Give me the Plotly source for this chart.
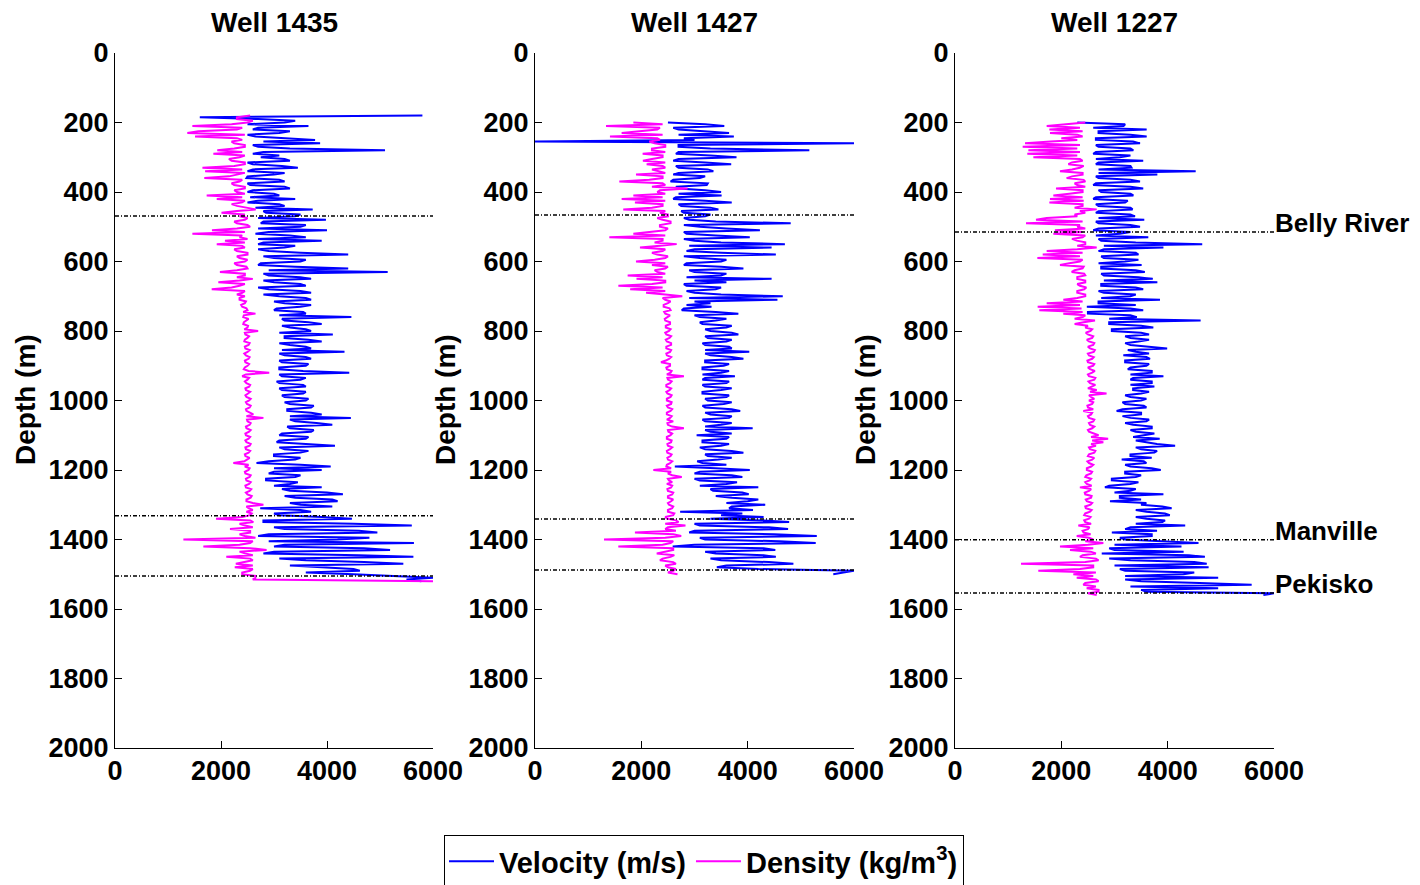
import plotly.graph_objects as go

# ---------------- data ----------------
WELLS = ["Well 1435", "Well 1427", "Well 1227"]
STEP = 5  # depth sampling of the digitised logs (m)

START_1435 = 180
VEL_1435 = [5800, 1600, 2700, 3400, 3200, 2500, 3650, 2700, 2600, 3300,
            3100, 2500, 2650, 3200, 3775, 2800, 3870, 2600, 2700, 3300,
            5095, 2800, 2600, 3100, 2750, 3200, 3300, 2500, 2600, 3150,
            3450, 2600, 2500, 3200, 3000, 2500, 2480, 3100, 3200, 2500,
            2550, 3200, 3300, 2600, 2500, 3000, 3100, 2550, 3400, 2700,
            2500, 3100, 3200, 2650, 3730, 2800, 2850, 3500, 3400, 2700,
            3980, 2800, 2750, 3600, 3500, 2700, 4000, 2900, 2650, 3300,
            3600, 2700, 3900, 2800, 2700, 3400, 3200, 2700, 2900, 3500,
            4400, 2800, 3000, 3600, 3500, 2750, 2700, 3400, 4400, 2900,
            5145, 2800, 2900, 3500, 3700, 2800, 3000, 3500, 3600, 2700,
            2900, 3500, 3700, 2800, 3100, 3600, 3700, 3000, 3200, 3700,
            3500, 3050, 3000, 3550, 3600, 3100, 4460, 3150, 3200, 3650,
            3900, 3150, 3300, 3600, 3700, 3100, 4110, 3200, 3200, 3650,
            3900, 3100, 3300, 3600, 3700, 3150, 4330, 3100, 3200, 3600,
            3700, 3100, 3150, 3650, 3600, 3100, 3100, 3550, 4420, 3100,
            3150, 3600, 3500, 3050, 3100, 3550, 3600, 3100, 3150, 3600,
            3550, 3150, 3200, 3650, 3600, 3200, 3300, 3750, 3700, 3250,
            3250, 3700, 3900, 3300, 4450, 3300, 3400, 3800, 4100, 3250,
            3300, 3750, 3700, 3150, 3100, 3650, 3600, 3100, 3050, 3600,
            4150, 3100, 3200, 3650, 3500, 3000, 3000, 3500, 3400, 2900,
            2670, 3500, 4070, 3000, 3900, 3000, 2900, 3500, 3400, 2850,
            2850, 3450, 3300, 3000, 3900, 3150, 3300, 4000, 4300, 3200,
            3400, 4100, 4200, 3300, 3500, 4100, 2740, 3500, 3700, 3000,
            3100, 3900, 4470, 2800, 2800, 4500, 5600, 3000, 3200, 4600,
            4950, 2900, 2700, 4800, 4200, 2900, 5640, 3200, 3000, 4700,
            5190, 3000, 2800, 4600, 5630, 3100, 3600, 4700, 5440, 3300,
            3800, 4500, 4620, 3600, 4500, 5400, 6000, 5500, 5780]
DEN_1435 = [2550, 2300, 2300, 2600, 2500, 2200, 1460, 2400, 2300, 1573,
            1365, 2450, 1510, 2300, 2400, 2200, 2250, 2450, 2450, 2250,
            1930, 2400, 1856, 2450, 2350, 2150, 2200, 2450, 2450, 2250,
            1650, 2400, 1700, 2450, 2300, 2150, 1685, 2400, 2350, 2200,
            2250, 2450, 2450, 2250, 2300, 2450, 1730, 2400, 1920, 2450,
            2400, 2200, 2300, 2450, 2655, 2300, 2010, 2450, 2350, 2500,
            2450, 2250, 2300, 2500, 2550, 2300, 1830, 2450, 1460, 2400,
            2350, 2500, 2075, 2450, 1920, 2400, 2450, 2250, 2300, 2500,
            2500, 2300, 2350, 2500, 2450, 2250, 2300, 2480, 2500, 2300,
            1980, 2450, 2450, 2300, 2600, 2350, 1950, 2450, 2350, 2200,
            1825, 2450, 2400, 2300, 2450, 2350, 2350, 2470, 2450, 2380,
            2400, 2480, 2500, 2420, 2650, 2430, 2420, 2520, 2480, 2430,
            2420, 2510, 2500, 2440, 2700, 2450, 2460, 2530, 2500, 2450,
            2440, 2540, 2520, 2450, 2460, 2540, 2500, 2440, 2470, 2540,
            2520, 2450, 2460, 2530, 2500, 2450, 2430, 2520, 2910, 2470,
            2400, 2530, 2500, 2450, 2480, 2550, 2530, 2460, 2470, 2550,
            2510, 2460, 2480, 2560, 2530, 2470, 2490, 2560, 2540, 2470,
            2480, 2560, 2610, 2480, 2800, 2490, 2500, 2560, 2540, 2470,
            2480, 2560, 2530, 2460, 2470, 2550, 2520, 2460, 2480, 2560,
            2540, 2460, 2470, 2550, 2520, 2450, 2460, 2540, 2500, 2440,
            2233, 2520, 2450, 2540, 2520, 2450, 2460, 2560, 2540, 2470,
            2480, 2560, 2530, 2460, 2470, 2570, 2540, 2470, 2500, 2580,
            2560, 2480, 2480, 2600, 2800, 2480, 2520, 2600, 2480, 2580,
            2550, 2400, 1906, 2550, 2610, 2350, 2450, 2600, 2170, 2550,
            2550, 2350, 2450, 2650, 1290, 2600, 2550, 2350, 1667, 2550,
            2860, 2350, 2450, 2600, 2100, 2550, 2600, 2400, 2280, 2600,
            2260, 2600, 2550, 2400, 2400, 2650, 2650, 2600, 6000]

START_1427 = 200
VEL_1427 = [2500, 3200, 3560, 2600, 2700, 3300, 3650, 2700, 3740, 2800,
            3000, 0, 6000, 2700, 2700, 3300, 5160, 2700, 2650, 3300,
            3790, 2700, 2600, 3200, 3690, 2650, 2700, 3250, 3355, 2700,
            2600, 3200, 3100, 2600, 2550, 3250, 3230, 2650, 2700, 3200,
            3500, 2700, 3510, 2650, 2600, 3200, 3700, 2700, 2750, 3300,
            3450, 2750, 2800, 3300, 3200, 2800, 2900, 3400, 4810, 2800,
            3100, 3600, 4230, 2800, 2850, 3400, 4040, 2800, 3000, 3500,
            4700, 2900, 4450, 3000, 2850, 3500, 4530, 2800, 3100, 3600,
            3500, 2850, 2800, 3500, 3920, 2900, 3000, 3600, 3500, 2850,
            4450, 3000, 3600, 2800, 2850, 3500, 3400, 2850, 3000, 3500,
            4660, 2900, 4560, 3000, 3300, 2850, 3320, 2800, 2760, 3400,
            3825, 3000, 3100, 3600, 3400, 3100, 3150, 3700, 3600, 3200,
            3300, 3700, 3825, 3200, 3250, 3700, 3600, 3150, 3200, 3650,
            3700, 3200, 4030, 3200, 3300, 3700, 3920, 3200, 3200, 3650,
            3550, 3150, 3150, 3650, 3500, 3150, 3760, 3200, 3150, 3650,
            3600, 3150, 3200, 3700, 3500, 3150, 3150, 3650, 3600, 3200,
            3250, 3700, 3550, 3150, 3200, 3700, 3860, 3200, 3300, 3700,
            3650, 3150, 3200, 3700, 3500, 3200, 4094, 3200, 3300, 3700,
            3040, 3650, 3600, 3150, 3150, 3650, 3500, 3100, 3200, 3700,
            3920, 3200, 3250, 3700, 3450, 3050, 3150, 3600, 2630, 3400,
            4040, 3100, 3000, 3700, 3900, 3000, 3100, 3800, 3600, 3100,
            4200, 3300, 3350, 3900, 4020, 3400, 3700, 4200, 4000, 3600,
            4330, 3700, 3650, 4100, 2730, 3900, 3500, 4300, 3300, 4300,
            4780, 3000, 3100, 4400, 4760, 3000, 2900, 4500, 5300, 3100,
            3200, 4600, 5280, 3000, 2590, 4300, 4520, 3200, 3400, 4300,
            4530, 3300, 3500, 4400, 4860, 3600, 3420, 4200, 6000, 5800,
            5610]
DEN_1427 = [1850, 2400, 1336, 2350, 2300, 1900, 1630, 2400, 1410, 2300,
            2350, 2150, 2250, 2450, 2450, 2200, 2200, 2450, 2025, 2400,
            2400, 2200, 2030, 2450, 2100, 2400, 2450, 2200, 2350, 2450,
            1900, 2400, 2400, 2150, 1586, 2400, 2450, 2200, 2870, 2350,
            2300, 2450, 1850, 2400, 1630, 2450, 1880, 2400, 2400, 2200,
            1660, 2450, 2350, 2500, 2500, 2300, 2400, 2550, 2550, 2350,
            2350, 2500, 2450, 2200, 1850, 2450, 1398, 2400, 2400, 2250,
            2665, 2350, 1975, 2450, 2400, 2200, 2300, 2500, 2450, 2250,
            1900, 2450, 2200, 2500, 2450, 2250, 2300, 2450, 1743, 2400,
            1910, 2450, 2450, 2200, 1568, 2400, 1790, 2450, 2090, 2450,
            2770, 2400, 2450, 2550, 2500, 2420, 2420, 2530, 2550, 2430,
            2450, 2540, 2500, 2440, 2450, 2540, 2540, 2460, 2460, 2550,
            2520, 2450, 2470, 2560, 2530, 2460, 2480, 2560, 2560, 2470,
            2470, 2560, 2540, 2470, 2480, 2560, 2520, 2460, 2370, 2540,
            2540, 2470, 2480, 2570, 2550, 2480, 2800, 2490, 2500, 2570,
            2540, 2470, 2470, 2560, 2530, 2470, 2490, 2570, 2550, 2480,
            2480, 2570, 2560, 2480, 2500, 2580, 2550, 2480, 2480, 2570,
            2540, 2480, 2600, 2490, 2500, 2580, 2800, 2500, 2510, 2580,
            2550, 2480, 2480, 2570, 2560, 2490, 2500, 2580, 2540, 2480,
            2490, 2570, 2550, 2490, 2500, 2580, 2540, 2480, 2470, 2560,
            2226, 2560, 2500, 2580, 2760, 2500, 2520, 2580, 2480, 2580,
            2560, 2490, 2500, 2600, 2580, 2500, 2500, 2600, 2560, 2500,
            2520, 2600, 2580, 2500, 2500, 2620, 2600, 2450, 2480, 2650,
            2700, 2450, 2830, 2500, 2450, 2650, 1880, 2600, 2750, 2450,
            1298, 2600, 2550, 2400, 1567, 2600, 2600, 2450, 2290, 2620,
            2550, 2400, 2350, 2600, 2650, 2450, 2500, 2650, 2600, 2500,
            2680]

START_1227 = 200
VEL_1227 = [2300, 3200, 3170, 2600, 3605, 2700, 2700, 3300, 3605, 2650,
            2650, 3350, 3480, 2650, 2700, 3300, 3355, 2650, 2600, 3300,
            3100, 2650, 3540, 2700, 2650, 3300, 3320, 2700, 4527, 2700,
            3806, 2650, 2700, 3300, 3480, 2650, 2600, 3300, 3540, 2700,
            2750, 3300, 3355, 2650, 2600, 3250, 3200, 2650, 2700, 3300,
            3340, 2700, 2650, 3300, 3386, 2700, 3560, 2650, 2700, 3300,
            3480, 2700, 2600, 3300, 3100, 2650, 3636, 2700, 2750, 3400,
            4650, 2800, 3920, 2800, 2700, 3400, 3450, 2750, 2800, 3450,
            3200, 2700, 3510, 2750, 2750, 3400, 3570, 2750, 2800, 3450,
            3720, 2800, 3806, 2750, 2750, 3400, 3540, 2700, 2800, 3400,
            3300, 2750, 3856, 2700, 2700, 3400, 2480, 3300, 3540, 2500,
            2500, 3300, 3420, 2900, 4620, 2900, 2900, 3500, 3730, 2950,
            2950, 3500, 3650, 3200, 3300, 3650, 3450, 3200, 3300, 3650,
            3990, 3250, 3400, 3650, 3166, 3600, 3668, 3200, 3200, 3650,
            3600, 3300, 3250, 3700, 3700, 3300, 3920, 3350, 3300, 3700,
            3700, 3300, 3750, 3350, 3350, 3650, 3500, 3200, 3300, 3600,
            3500, 3150, 3200, 3550, 3600, 3150, 3040, 3500, 3500, 3150,
            3300, 3650, 3600, 3200, 3350, 3700, 3700, 3300, 3400, 3750,
            3500, 3350, 3850, 3400, 3600, 3800, 4140, 3400, 3500, 3800,
            3750, 3300, 3300, 3700, 3135, 3550, 3600, 3200, 3300, 3700,
            3870, 3200, 3200, 3500, 3400, 2950, 2950, 3450, 3300, 2900,
            2820, 3400, 3300, 3000, 3920, 3100, 3100, 3500, 2915, 3600,
            3500, 3900, 4075, 3400, 3600, 3950, 4040, 3400, 3600, 3950,
            3900, 3400, 4330, 3300, 3200, 3800, 2950, 3700, 3700, 3100,
            3200, 3900, 4580, 3000, 4260, 2900, 3000, 4300, 2760, 4400,
            4700, 2900, 3300, 4500, 4735, 3000, 4770, 3100, 3200, 4500,
            4300, 3200, 4950, 3200, 3500, 4600, 5580, 3300, 4950, 3500,
            3600, 6000, 5800]
DEN_1227 = [2450, 2000, 1725, 2350, 1775, 2400, 1787, 2300, 2400, 2000,
            2300, 1800, 1317, 2350, 1273, 2300, 1380, 2350, 1360, 2300,
            1474, 2350, 2400, 2200, 2132, 2420, 2350, 2200, 1975, 2400,
            2400, 2200, 2100, 2420, 2450, 2250, 2300, 2450, 1900, 2400,
            2400, 2150, 1850, 2400, 1787, 2420, 1775, 2400, 2400, 2250,
            2665, 2350, 2450, 2250, 2300, 1725, 1524, 2400, 1336, 2350,
            2300, 2450, 1880, 2400, 1850, 2450, 2400, 2200, 2290, 2450,
            2450, 2300, 2665, 2300, 1725, 2400, 1650, 2350, 1549, 2400,
            2350, 2150, 1975, 2420, 2400, 2250, 2195, 2430, 2450, 2300,
            2300, 2450, 2450, 2300, 2350, 2470, 2430, 2300, 2300, 2450,
            2450, 2300, 2038, 2400, 1725, 2350, 1555, 2380, 1586, 2400,
            2038, 2450, 2400, 2250, 2633, 2420, 2250, 2500, 2450, 2580,
            2550, 2460, 2500, 2600, 2580, 2480, 2520, 2620, 2600, 2500,
            2540, 2630, 2610, 2500, 2520, 2610, 2580, 2490, 2500, 2620,
            2600, 2500, 2540, 2630, 2580, 2500, 2520, 2640, 2620, 2510,
            2540, 2640, 2580, 2500, 2665, 2540, 2850, 2520, 2560, 2620,
            2520, 2600, 2580, 2490, 2500, 2600, 2414, 2580, 2560, 2500,
            2520, 2620, 2600, 2520, 2540, 2620, 2580, 2500, 2520, 2620,
            2700, 2560, 2880, 2580, 2790, 2560, 2650, 2520, 2540, 2640,
            2620, 2520, 2500, 2620, 2580, 2490, 2520, 2600, 2560, 2480,
            2480, 2580, 2560, 2470, 2450, 2560, 2530, 2450, 2480, 2570,
            2350, 2560, 2520, 2440, 2450, 2570, 2560, 2460, 2480, 2580,
            2550, 2450, 2460, 2570, 2540, 2450, 2430, 2550, 2520, 2430,
            2450, 2560, 2320, 2530, 2500, 2400, 2420, 2550, 2290, 2520,
            2600, 2450, 2790, 2500, 1975, 2600, 2163, 2550, 2650, 2400,
            2350, 2650, 2700, 2450, 1242, 2600, 2600, 2350, 1567, 2650,
            2226, 2600, 2290, 2650, 2700, 2450, 2414, 2650, 2477, 2700,
            2700, 2500, 2665]

HORIZON_NAMES = ["Belly River", "Manville", "Pekisko"]
HORIZONS_1435 = [469, 1332, 1505]
HORIZONS_1427 = [466, 1341, 1488]
HORIZONS_1227 = [515, 1401, 1554]

Y_TICKS = [0, 200, 400, 600, 800, 1000, 1200, 1400, 1600, 1800, 2000]
X_TICKS = [0, 2000, 4000, 6000]

# ---------------- figure ----------------
W, H = 1420, 885
FONT = "Liberation Sans, Arial, sans-serif"
FS = 27
BLUE = "#0000FF"
MAGENTA = "#FF00FF"

wells = [
    (START_1435, VEL_1435, DEN_1435, HORIZONS_1435),
    (START_1427, VEL_1427, DEN_1427, HORIZONS_1427),
    (START_1227, VEL_1227, DEN_1227, HORIZONS_1227),
]
# axes pixel boxes (left, right)
xpix = [(115, 433), (535, 854), (955, 1274)]
ytop, ybot = 53, 748

fig = go.Figure()
for i, (start, vel, den, hz) in enumerate(wells):
    xa = "x" if i == 0 else f"x{i+1}"
    ya = "y" if i == 0 else f"y{i+1}"
    dv = [start + STEP * k for k in range(len(vel))]
    fig.add_trace(go.Scatter(x=vel, y=dv, mode="lines", xaxis=xa, yaxis=ya,
                             line=dict(color=BLUE, width=2),
                             name="Velocity (m/s)", legendgroup="v",
                             showlegend=(i == 0)))
for i, (start, vel, den, hz) in enumerate(wells):
    xa = "x" if i == 0 else f"x{i+1}"
    ya = "y" if i == 0 else f"y{i+1}"
    dd = [start + STEP * k for k in range(len(den))]
    fig.add_trace(go.Scatter(x=den, y=dd, mode="lines", xaxis=xa, yaxis=ya,
                             line=dict(color=MAGENTA, width=2),
                             name="Density (kg/m<sup>3</sup>)", legendgroup="d",
                             showlegend=(i == 0)))
for i, (start, vel, den, hz) in enumerate(wells):
    xa = "x" if i == 0 else f"x{i+1}"
    ya = "y" if i == 0 else f"y{i+1}"
    for d in hz:
        fig.add_trace(go.Scatter(x=[X_TICKS[0], X_TICKS[-1]], y=[d, d], mode="lines",
                                 xaxis=xa, yaxis=ya, showlegend=False,
                                 hoverinfo="skip",
                                 line=dict(color="black", width=1.5,
                                           dash="4px,2px,1px,2px")))

axis_common = dict(showgrid=False, zeroline=False, showline=True,
                   linecolor="black", linewidth=1, ticks="inside",
                   ticklen=7, tickcolor="black", mirror=False,
                   tickfont=dict(family=FONT, size=FS, color="black", weight="bold"))
layout = dict(width=W, height=H,
              margin=dict(l=0, r=0, t=0, b=0, autoexpand=False),
              paper_bgcolor="white", plot_bgcolor="white",
              font=dict(family=FONT, size=FS, color="black"))
for i, (l, r) in enumerate(xpix):
    xk = "xaxis" if i == 0 else f"xaxis{i+1}"
    yk = "yaxis" if i == 0 else f"yaxis{i+1}"
    ya = "y" if i == 0 else f"y{i+1}"
    xa = "x" if i == 0 else f"x{i+1}"
    layout[xk] = dict(domain=[l / W, r / W], range=[X_TICKS[0], X_TICKS[-1]],
                      tickvals=X_TICKS, anchor=ya, ticklabelstandoff=-1,
                      automargin=False, **axis_common)
    layout[yk] = dict(domain=[1 - ybot / H, 1 - ytop / H], range=[Y_TICKS[-1], Y_TICKS[0]],
                      tickvals=Y_TICKS, anchor=xa, ticklabelstandoff=0,
                      automargin=False, **axis_common)
fig.update_layout(**layout)

annotations = []
for i, (l, r) in enumerate(xpix):
    annotations.append(dict(text="<b>%s</b>" % WELLS[i], xref="paper", yref="paper",
                            x=(l + r) / 2 / W, y=1 - 22 / H, xanchor="center",
                            yanchor="middle", showarrow=False,
                            font=dict(family=FONT, size=FS + 1, color="black")))
    annotations.append(dict(text="<b>Depth (m)</b>", xref="paper", yref="paper",
                            x=(l - 90) / W, y=1 - 400 / H, xanchor="center",
                            yanchor="middle", textangle=-90, showarrow=False,
                            font=dict(family=FONT, size=FS + 1, color="black")))
for name, d in zip(HORIZON_NAMES, HORIZONS_1227):
    annotations.append(dict(text="<b>%s</b>" % name, xref="x3", yref="y3",
                            x=X_TICKS[-1], y=d, xanchor="left", yanchor="bottom",
                            xshift=-1, yshift=-8, showarrow=False,
                            font=dict(family=FONT, size=FS - 1, color="black")))
fig.update_layout(annotations=annotations)

fig.update_layout(legend=dict(orientation="h", x=704 / W, y=1 - 835 / H,
                              xanchor="center", yanchor="top",
                              bordercolor="black", borderwidth=1,
                              bgcolor="white", itemwidth=45,
                              font=dict(family=FONT, size=29, color="black",
                                        weight="bold")))

fig.write_html("out.html")
